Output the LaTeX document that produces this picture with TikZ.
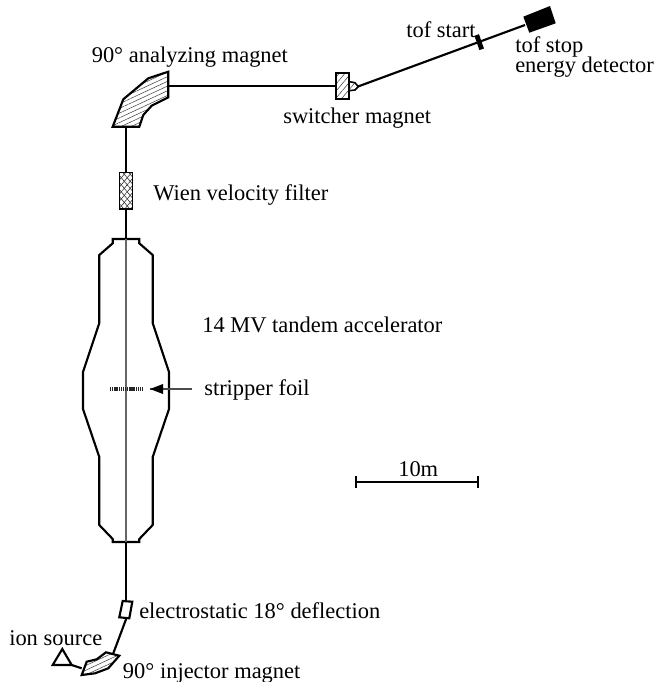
\documentclass[tikz,border=0pt]{standalone}
\usepackage{fontspec}
\setmainfont{Liberation Serif}
\usetikzlibrary{patterns.meta}
\tikzset{
  lbl/.style={inner sep=0pt,anchor=base west,font=\fontsize{16.85}{18}\selectfont,align=left},
  thick line/.style={line width=1.6pt,line join=miter},
  hatched/.style={pattern={Lines[angle=25,distance=3.2pt,line width=0.4pt]},pattern color=black!75},
  hatchedsteep/.style={pattern={Lines[angle=50,distance=3.4pt,line width=0.4pt]},pattern color=black!75},
  crossed/.style={preaction={pattern={Lines[angle=50,distance=3.4pt,line width=0.45pt]},pattern color=black!80},
                  pattern={Lines[angle=-50,distance=3.4pt,line width=0.45pt]},pattern color=black!80},
}
\begin{document}
\begin{tikzpicture}[x=0.75pt,y=-0.75pt]
\useasboundingbox (0,0) rectangle (654,682);
% beam
\coordinate (wientop) at (126,172.5);
\coordinate (wienbot) at (126,209);
\draw[thick line] (126,126) -- (wientop);
\draw[thick line] (wienbot) -- (126,239);
\draw[thick line] (168,86) -- (336,86);
\draw[thick line] (358,86.5) -- (525,25);
\draw[thick line] (126,542) -- (126,602);
\draw[thick line] (126.5,618) -- (113.3,653.3);
\draw[thick line] (71.7,665) -- (81.7,668.3);
% analyzing magnet
\draw[thick line,hatched] (168.3,71.7) -- (148.3,78.3) -- (123.3,99.3) -- (112.7,126.7) -- (139.3,126.7) -- (143.3,115) -- (151.7,105.7) -- (168.3,97.3) -- cycle;
% wien
\node[draw,line width=0.9pt,crossed,minimum width=9.75pt,minimum height=27.4pt,inner sep=0pt] (wien) at (125.7,190.7) {};
% tandem
\draw[thick line] (112.7,239) -- (139.3,239) -- (139.3,243.3) -- (152.7,255) -- (152.7,323) -- (169,372) -- (169,409) -- (152.7,457) -- (152.7,525) -- (139.3,539) -- (139.3,542) -- (112.7,542) -- (112.7,539) -- (99.3,525) -- (99.3,457) -- (83,409) -- (83,372) -- (99.3,323) -- (99.3,255) -- (112.7,243.3) -- cycle;
\draw[line width=0.9pt,black!60] (126,239) -- (126,542);
\draw[line width=3pt,dash pattern=on 1pt off 0.6pt,black!85] (110,389) -- (143,389);
\coordinate (arrowtail) at (192,389);
\coordinate (arrowtip) at (150,389);
\draw[line width=0.9pt,black!70] (arrowtail) -- (arrowtip);
\fill (arrowtip) -- (163,384) -- (163,394) -- cycle;
% deflector
\draw[thick line] (122.7,601) -- (132.3,601.7) -- (129.3,618.3) -- (119.3,617.3) -- cycle;
% injector magnet
\draw[thick line,hatched] (81.7,675) -- (86.7,661.7) -- (96.7,659.3) -- (106,652.3) -- (119.3,655.7) -- (108.3,668.3) -- (95,673.3) -- cycle;
% source triangle
\draw[thick line] (62.3,649) -- (52.7,665) -- (71.7,665) -- cycle;
% switcher
\draw[thick line,hatchedsteep] (336,72.7) rectangle (349.3,99.3);
\draw[line width=1.2pt,hatchedsteep] (349.3,81.7) -- (355,82.7) -- (358.3,86.7) -- (355,90) -- (349.3,90.7);
% tof start
\draw[line width=3.6pt] (476.7,35) -- (481.7,49.3);
% tof stop
\fill (523.3,16.7) -- (550,6) -- (555.7,23.3) -- (529.3,32.7) -- cycle;
% scale bar
\draw[line width=0.8pt] (356,476) -- (356,488);
\draw[line width=0.8pt] (478,476) -- (478,488);
\draw[line width=0.8pt] (356,482) -- (478,482);
% labels
\node[lbl] (l1) at (91.5,62.7) {90° analyzing magnet};
\node[lbl] (l2) at (406,37) {tof start};
\node[lbl] (l3) at (515,52.7) {tof stop};
\node[lbl] (l4) at (515,72.3) {energy detector};
\node[lbl] (l5) at (283,123.3) {switcher magnet};
\node[lbl] (l6) at (153,200) {Wien velocity filter};
\node[lbl] (l7) at (202,332) {14 MV tandem accelerator};
\node[lbl] (l8) at (204,395) {stripper foil};
\node[lbl] (l9) at (398,476) {10m};
\node[lbl] (l10) at (139,618) {electrostatic 18° deflection};
\node[lbl] (l11) at (9,645) {ion source};
\node[lbl] (l12) at (122.7,678) {90° injector magnet};
\end{tikzpicture}
\end{document}
